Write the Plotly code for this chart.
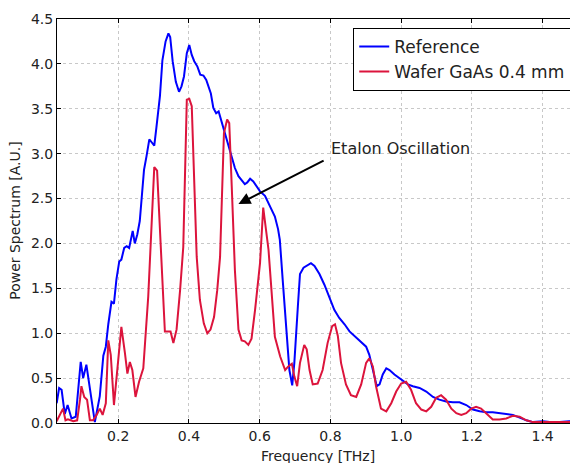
import plotly.graph_objects as go

ref_x = [0.026, 0.033, 0.040, 0.049, 0.057, 0.068, 0.080, 0.094, 0.101, 0.110, 0.134, 0.148,
         0.158, 0.165, 0.172, 0.181, 0.188, 0.195, 0.203, 0.209, 0.217, 0.224, 0.231, 0.241,
         0.247, 0.254, 0.261, 0.266, 0.273, 0.280, 0.288, 0.294, 0.302, 0.308, 0.318, 0.325,
         0.334, 0.342, 0.347, 0.354, 0.363, 0.372, 0.379, 0.386, 0.394, 0.401, 0.408, 0.415,
         0.424, 0.432, 0.441, 0.449, 0.455, 0.462, 0.469, 0.477, 0.484, 0.492, 0.501, 0.511,
         0.521, 0.530, 0.540, 0.549, 0.558, 0.565, 0.573, 0.582, 0.591, 0.601, 0.615, 0.629,
         0.643, 0.652, 0.657, 0.665, 0.675, 0.684, 0.692, 0.698, 0.708, 0.714, 0.724, 0.736,
         0.745, 0.755, 0.769, 0.783, 0.797, 0.811, 0.825, 0.840, 0.854, 0.868, 0.887, 0.901,
         0.910, 0.920, 0.931, 0.939, 0.948, 0.958, 0.967, 0.981, 1.000, 1.019, 1.033, 1.052,
         1.071, 1.090, 1.108, 1.127, 1.146, 1.165, 1.184, 1.203, 1.222, 1.241, 1.259, 1.278,
         1.297, 1.316, 1.335, 1.354, 1.373, 1.401, 1.420, 1.448, 1.476, 1.500]
ref_y = [0.22, 0.39, 0.37, 0.10, 0.20, 0.05, 0.07, 0.68, 0.50, 0.65, 0.01, 0.30,
         0.75, 0.85, 1.10, 1.35, 1.33, 1.60, 1.80, 1.82, 1.95, 1.97, 1.95, 2.14,
         2.00, 2.10, 2.25, 2.53, 2.82, 2.97, 3.16, 3.13, 3.09, 3.29, 3.64, 4.04,
         4.25, 4.34, 4.30, 4.03, 3.80, 3.69, 3.75, 3.86, 4.12, 4.21, 4.10, 4.03,
         3.97, 3.88, 3.87, 3.82, 3.75, 3.67, 3.51, 3.45, 3.47, 3.36, 3.23, 3.08,
         2.97, 2.84, 2.75, 2.71, 2.66, 2.68, 2.72, 2.69, 2.64, 2.58, 2.53, 2.41,
         2.30, 2.16, 2.04, 1.60, 1.04, 0.59, 0.42, 0.67, 1.30, 1.66, 1.73, 1.76,
         1.78, 1.75, 1.66, 1.54, 1.41, 1.26, 1.17, 1.10, 1.02, 0.97, 0.91, 0.85,
         0.76, 0.59, 0.41, 0.43, 0.54, 0.61, 0.59, 0.54, 0.48, 0.43, 0.41, 0.39,
         0.35, 0.29, 0.26, 0.24, 0.23, 0.23, 0.20, 0.15, 0.13, 0.12, 0.12, 0.11,
         0.10, 0.09, 0.06, 0.03, 0.01, 0.02, 0.01, 0.01, 0.02, 0.02]

wafer_x = [0.026, 0.035, 0.044, 0.051, 0.058, 0.073, 0.084, 0.092, 0.096, 0.104, 0.112, 0.120,
           0.129, 0.139, 0.148, 0.156, 0.165, 0.172, 0.179, 0.188, 0.197, 0.209, 0.219, 0.226,
           0.233, 0.240, 0.249, 0.259, 0.271, 0.285, 0.302, 0.310, 0.332, 0.348, 0.356, 0.365,
           0.375, 0.384, 0.394, 0.401, 0.408, 0.422, 0.431, 0.442, 0.452, 0.461, 0.471, 0.480,
           0.488, 0.499, 0.508, 0.514, 0.521, 0.530, 0.540, 0.549, 0.558, 0.568, 0.577, 0.587,
           0.601, 0.610, 0.625, 0.634, 0.643, 0.658, 0.672, 0.681, 0.691, 0.698, 0.706, 0.714,
           0.726, 0.733, 0.741, 0.750, 0.764, 0.778, 0.792, 0.805, 0.813, 0.821, 0.830, 0.844,
           0.858, 0.873, 0.887, 0.901, 0.910, 0.920, 0.929, 0.943, 0.958, 0.972, 0.986, 1.000,
           1.014, 1.028, 1.042, 1.057, 1.071, 1.085, 1.099, 1.113, 1.127, 1.142, 1.156, 1.170,
           1.184, 1.198, 1.212, 1.226, 1.241, 1.259, 1.278, 1.297, 1.316, 1.335, 1.354, 1.373,
           1.410, 1.448, 1.500]
wafer_y = [0.02, 0.09, 0.16, 0.03, 0.04, 0.02, 0.03, 0.26, 0.41, 0.29, 0.26, 0.03,
           0.03, 0.09, 0.16, 0.09, 0.22, 0.92, 0.76, 0.20, 0.59, 1.07, 0.78, 0.55,
           0.68, 0.59, 0.29, 0.46, 0.61, 1.41, 2.85, 2.81, 1.02, 1.02, 0.89, 1.04,
           1.48, 1.96, 3.60, 3.61, 3.53, 1.85, 1.37, 1.11, 1.00, 1.04, 1.18, 1.48,
           1.85, 3.23, 3.38, 3.34, 2.64, 1.70, 1.04, 0.92, 0.91, 0.87, 0.94, 1.26,
           1.78, 2.40, 1.93, 1.41, 0.96, 0.74, 0.59, 0.63, 0.66, 0.52, 0.41, 0.67,
           0.87, 0.82, 0.59, 0.43, 0.44, 0.59, 0.89, 1.08, 1.10, 0.97, 0.67, 0.43,
           0.31, 0.29, 0.43, 0.67, 0.72, 0.63, 0.41, 0.16, 0.13, 0.22, 0.35, 0.44,
           0.46, 0.37, 0.22, 0.15, 0.13, 0.18, 0.28, 0.31, 0.26, 0.16, 0.11, 0.09,
           0.11, 0.16, 0.18, 0.16, 0.11, 0.04, 0.04, 0.05, 0.08, 0.07, 0.03, 0.01,
           0.01, 0.01, 0.01]

x_ticks = [0.2, 0.4, 0.6, 0.8, 1.0, 1.2, 1.4]
y_ticks = [0.0, 0.5, 1.0, 1.5, 2.0, 2.5, 3.0, 3.5, 4.0, 4.5]

font = "DejaVu Sans, Liberation Sans, sans-serif"
ink = "#222222"

fig = go.Figure()
fig.add_trace(go.Scatter(x=ref_x, y=ref_y, mode="lines", name="Reference",
                         line=dict(color="#0000ff", width=2)))
fig.add_trace(go.Scatter(x=wafer_x, y=wafer_y, mode="lines", name="Wafer GaAs 0.4 mm",
                         line=dict(color="#dc143c", width=2)))

fig.add_annotation(x=0.54, y=2.44, ax=0.785, ay=2.93, xref="x", yref="y",
                   axref="x", ayref="y", text="", showarrow=True,
                   arrowhead=2, arrowsize=1.2, arrowwidth=2, arrowcolor="black")
fig.add_annotation(x=0.797, y=3.06, xref="x", yref="y", text="Etalon Oscillation",
                   showarrow=False, xanchor="left", yanchor="middle",
                   font=dict(family=font, size=16, color=ink))

# axis titles
fig.add_annotation(x=0.5, y=-0.082, xref="paper", yref="paper", text="Frequency [THz]",
                   showarrow=False, xanchor="center", yanchor="middle",
                   font=dict(family=font, size=14, color=ink))
fig.add_annotation(x=-0.081, y=0.5, xref="paper", yref="paper", text="Power Spectrum [A.U.]",
                   showarrow=False, xanchor="center", yanchor="middle", textangle=-90,
                   font=dict(family=font, size=14, color=ink))

axis_common = dict(showline=True, linecolor="black", linewidth=1, mirror="ticks",
                   ticks="inside", ticklen=4, tickcolor="black", automargin=False,
                   showgrid=True, gridcolor="#c8c8c8", griddash="dot", gridwidth=1,
                   zeroline=False, tickfont=dict(family=font, size=14, color=ink))

fig.update_xaxes(range=[0.027, 1.5], tickvals=x_ticks, ticktext=[f"{v:.1f}" for v in x_ticks],
                 **axis_common)
fig.update_yaxes(range=[0, 4.5], tickvals=y_ticks, ticktext=[f"{v:.1f}" for v in y_ticks],
                 **axis_common)

# the page body adds an 8px offset; margins compensate so the plot area lands at
# x 57..578, y 19..423 in the window
fig.update_layout(
    width=578, height=463,
    margin=dict(l=49, r=8, t=11, b=48),
    plot_bgcolor="white", paper_bgcolor="white",
    showlegend=True,
    legend=dict(x=0.987, y=0.978, xanchor="right", yanchor="top",
                bgcolor="white", bordercolor="black", borderwidth=1,
                font=dict(family=font, size=17, color=ink),
                itemwidth=30, tracegroupgap=0),
)

fig.write_html("out.html")
